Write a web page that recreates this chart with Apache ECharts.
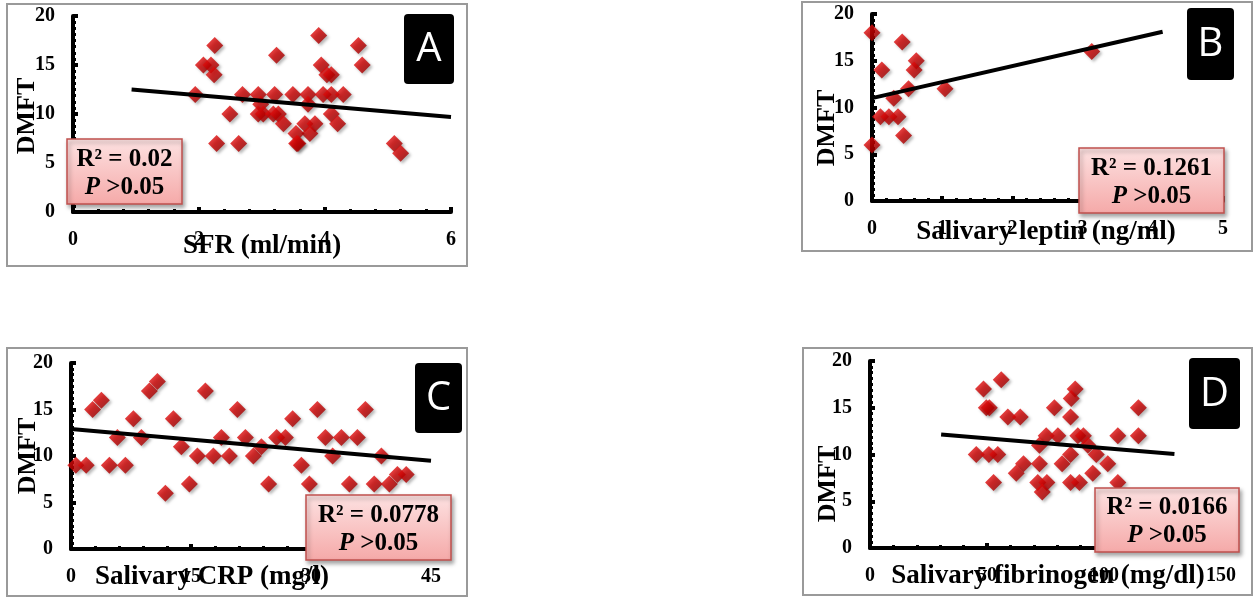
<!DOCTYPE html>
<html>
<head>
<meta charset="utf-8">
<script src="https://cdn.jsdelivr.net/npm/echarts@6/dist/echarts.min.js"></script>
<style>
  html, body { margin: 0; padding: 0; background: #fff; }
  #main { width: 1254px; height: 602px; }
</style>
</head>
<body>
<div id="main"></div>
<script>
// panel A: SFR
const sfrX = [3.9, 2.25, 4.53, 3.23, 2.07, 2.19, 3.94, 4.59, 2.24, 4.03, 4.1, 1.94, 2.69, 2.94, 3.2, 3.49, 3.73, 3.97, 4.1, 4.29,
  2.98, 3.73, 2.49, 2.94, 3.02, 3.18, 3.26, 3.34, 4.1, 4.2, 3.68, 3.84, 3.76, 3.54, 2.28, 2.63, 3.55, 3.57, 5.1, 5.2];
const sfrY = [18, 17, 17, 16, 15, 15, 15, 15, 14, 14, 14, 12, 12, 12, 12, 12, 12, 12, 12, 12,
  11, 11, 10, 10, 10, 10, 10, 9, 10, 9, 9, 9, 8, 8, 7, 7, 7, 7, 7, 6];
const sfrTrend = [[0.93, 12.5], [6, 9.7]];

// panel B: leptin
const leptinX = [0, 0.43, 0.63, 0.14, 0.6, 0.52, 1.04, 0.31, 0.12, 0.24, 0.37, 0.45, 0, 3.13];
const leptinY = [18, 17, 15, 14, 14, 12, 12, 11, 9, 9, 9, 7, 6, 16];
const leptinTrend = [[0, 11], [4.14, 18.1]];

// panel C: CRP
const crpX = [0.6, 1.9, 2.7, 3.8, 4.8, 5.8, 6.8, 7.8, 8.8, 9.8, 10.8, 11.8, 12.8, 13.8, 14.8, 15.8, 16.8, 17.8, 18.8, 19.8, 20.8,
  21.8, 22.8, 23.8, 24.7, 25.7, 26.8, 27.7, 28.8, 29.8, 30.8, 31.8, 32.7, 33.8, 34.8, 35.8, 36.8, 37.9, 38.8, 39.8, 40.8, 41.9];
const crpY = [9, 9, 15, 16, 9, 12, 9, 14, 12, 17, 18, 6, 14, 11, 7, 10, 17, 10, 12, 10, 15,
  12, 10, 11, 7, 12, 12, 14, 9, 7, 15, 12, 10, 12, 7, 12, 15, 7, 10, 7, 8, 8];
const crpTrend = [[0, 12.9], [45, 9.5]];

// panel D: fibrinogen
const fibX = [56.1, 48.5, 87.7, 86, 49.7, 51, 78.8, 114.7, 58.9, 64.2, 85.7, 75.3, 80.3, 88.8, 91.2, 105.9, 114.7, 72.4, 93.1,
  45.4, 50.8, 54.6, 85.7, 96.7, 65.6, 72.4, 82.1, 101.6, 62.5, 95.2, 52.8, 71.7, 75.6, 85.7, 89.5, 105.9, 73.6];
const fibY = [18, 17, 17, 16, 15, 15, 15, 15, 14, 14, 14, 12, 12, 12, 12, 12, 12, 11, 11,
  10, 10, 10, 10, 10, 9, 9, 9, 9, 8, 8, 7, 7, 7, 7, 7, 7, 6];
const fibTrend = [[30.4, 12.15], [130.1, 10.05]];

const xNames = ['SFR (ml/min)', 'Salivary leptin (ng/ml)', 'Salivary CRP (mg/l)', 'Salivary fibrinogen (mg/dl)'];
const xMax = [6, 5, 45, 150];
const xStep = [2, 1, 15, 50];
const letters = ['A', 'B', 'C', 'D'];
const r2Text = ['0.02', '0.1261', '0.0778', '0.0166'];

const serif = 'Liberation Serif';
const zip = (xs, ys) => xs.map((x, i) => [x, ys[i]]);
const points = [zip(sfrX, sfrY), zip(leptinX, leptinY), zip(crpX, crpY), zip(fibX, fibY)];
const trends = [sfrTrend, leptinTrend, crpTrend, fibTrend];

const grids = [
  { left: 73, top: 16, width: 378, height: 196 },
  { left: 872, top: 14, width: 351, height: 187 },
  { left: 71, top: 363, width: 360, height: 186 },
  { left: 870, top: 361, width: 351, height: 187 }
];
// frame, letter box, r2 box, axis name centres
const frames = [[7, 4, 460, 262], [802, 2, 450, 249], [7, 348, 460, 248], [803, 348, 449, 247]];
const letterBox = [[404, 14, 50, 70], [1187, 8, 47, 72], [415, 363, 47, 70], [1189, 358, 51, 71]];
const r2Box = [[67, 139, 115, 65], [1079, 148, 145, 65], [306, 495, 145, 65], [1095, 488, 144, 64]];
const xNamePos = [[262, 246], [1046, 232], [212, 577], [1048, 576]];
const yNamePos = [[27, 116], [827, 128], [28, 456], [828, 484]];

const axisCommon = {
  axisLine: { lineStyle: { color: '#000', width: 4 } },
  axisTick: { inside: true, length: 5, lineStyle: { color: '#000', width: 4 } },
  minorTick: { show: true, length: 3, lineStyle: { color: '#000', width: 3 } },
  splitLine: { show: false },
  axisLabel: { fontFamily: serif, fontWeight: 'bold', fontSize: 20, color: '#000', margin: 18 }
};

const xAxis = [], yAxis = [], series = [], graphic = [];
for (let i = 0; i < 4; i++) {
  xAxis.push(Object.assign({}, axisCommon, {
    type: 'value', gridIndex: i, min: 0, max: xMax[i], interval: xStep[i],
    minorTick: Object.assign({}, axisCommon.minorTick, { splitNumber: 5 })
  }));
  yAxis.push(Object.assign({}, axisCommon, {
    type: 'value', gridIndex: i, min: 0, max: 20, interval: 5,
    minorTick: Object.assign({}, axisCommon.minorTick, { splitNumber: 8 })
  }));
  series.push({
    type: 'scatter', xAxisIndex: i, yAxisIndex: i, data: points[i],
    symbol: 'diamond', symbolSize: 17,
    itemStyle: {
      color: new echarts.graphic.LinearGradient(0, 0, 1, 1, [
        { offset: 0, color: '#f01818' },
        { offset: 0.5, color: '#c80000' },
        { offset: 1, color: '#8a0000' }
      ]),
      shadowBlur: 3, shadowOffsetX: 2, shadowOffsetY: 2, shadowColor: 'rgba(0,0,0,0.35)'
    }
  });
  series.push({
    type: 'line', xAxisIndex: i, yAxisIndex: i, data: trends[i],
    symbol: 'none', lineStyle: { color: '#000', width: 4 }, z: 3
  });

  const f = frames[i];
  graphic.push({ type: 'rect', shape: { x: f[0], y: f[1], width: f[2], height: f[3] },
    style: { fill: 'none', stroke: '#9a9a9a', lineWidth: 2 }, z: 0 });

  const l = letterBox[i];
  graphic.push({ type: 'rect', shape: { x: l[0], y: l[1], width: l[2], height: l[3], r: 4 },
    style: { fill: '#000' }, z: 10 });
  graphic.push({ type: 'text', x: l[0] + l[2] / 2, y: l[1] + l[3] / 2 + 1,
    style: { text: letters[i], fill: '#fff', font: '40px "Open Sans"', textAlign: 'center', textVerticalAlign: 'middle' }, z: 11 });

  graphic.push({ type: 'text', x: xNamePos[i][0], y: xNamePos[i][1],
    style: { text: xNames[i], fill: '#000', font: 'bold 27px "' + serif + '"', textAlign: 'center', textVerticalAlign: 'middle' }, z: 5 });
  graphic.push({ type: 'text', x: yNamePos[i][0], y: yNamePos[i][1], rotation: Math.PI / 2,
    style: { text: 'DMFT', fill: '#000', font: 'bold 26px "' + serif + '"', textAlign: 'center', textVerticalAlign: 'middle' }, z: 5 });

  const r = r2Box[i];
  graphic.push({ type: 'rect', shape: { x: r[0], y: r[1], width: r[2], height: r[3] },
    style: {
      fill: new echarts.graphic.LinearGradient(0, 0, 0, 1, [
        { offset: 0, color: '#fde2e2' },
        { offset: 1, color: '#f5a9a8' }
      ]),
      stroke: '#c0504d', lineWidth: 1.5,
      shadowBlur: 4, shadowOffsetX: 2, shadowOffsetY: 3, shadowColor: 'rgba(0,0,0,0.35)'
    }, z: 20 });
  graphic.push({ type: 'text', x: r[0] + r[2] / 2, y: r[1] + r[3] / 2 + 2,
    style: {
      text: 'R² = ' + r2Text[i] + '\n{i|P} >0.05',
      fill: '#000', font: 'bold 25px "' + serif + '"', textAlign: 'center', textVerticalAlign: 'middle',
      lineHeight: 28,
      rich: { i: { fontFamily: serif, fontWeight: 'bold', fontStyle: 'italic', fontSize: 25, lineHeight: 28 } }
    }, z: 21 });
}

const chart = echarts.init(document.getElementById('main'));
chart.setOption({
  backgroundColor: '#fff',
  animation: false,
  grid: grids,
  xAxis: xAxis,
  yAxis: yAxis,
  series: series,
  graphic: graphic
});
</script>
</body>
</html>
